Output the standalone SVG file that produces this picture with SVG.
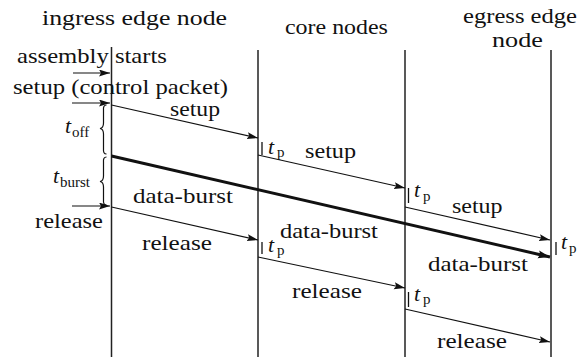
<svg xmlns="http://www.w3.org/2000/svg" width="586" height="359" viewBox="0 0 586 359">
<style>
text{font-family:"Liberation Serif","Times New Roman",serif;font-size:22px;fill:#111}
.it{font-style:italic}
.sub{font-size:15px}
.life{stroke:#222;stroke-width:1.5;fill:none}
.msg{stroke:#111;stroke-width:1.2;fill:none;marker-end:url(#ah)}
.thick{stroke:#111;stroke-width:3;fill:none;marker-end:url(#ahb)}
.bar{stroke:#111;stroke-width:1.3}
.brace{stroke:#111;stroke-width:1.2;fill:none}
</style>
<defs>
<marker id="ah" markerUnits="userSpaceOnUse" markerWidth="12" markerHeight="8" refX="11" refY="3.5" orient="auto">
<path d="M0,0 L11,3.5 L0,7 L2,3.5 z" fill="#111"/>
</marker>
<marker id="ahb" markerUnits="userSpaceOnUse" markerWidth="14" markerHeight="10" refX="12" refY="4" orient="auto">
<path d="M0,0 L12,4 L0,8 L2,4 z" fill="#111"/>
</marker>
</defs>
<rect width="586" height="359" fill="#fff"/>
<g id="ingress">
<text transform="translate(42 25) scale(1.174 1)">ingress edge node</text>
<line class="life" x1="111.5" y1="47" x2="111.5" y2="357"/>
</g>
<g id="core1">
<text transform="translate(285 34) scale(1.088 1)">core nodes</text>
<line class="life" x1="258" y1="50" x2="258" y2="357"/>
</g>
<g id="core2">
<line class="life" x1="405" y1="50" x2="405" y2="357"/>
</g>
<g id="egress">
<text transform="translate(463 23) scale(1.118 1)">egress edge</text>
<text transform="translate(492 47) scale(1.19 1)">node</text>
<line class="life" x1="551" y1="50" x2="551" y2="357"/>
</g>

<g id="connectors">
<line class="msg" x1="73" y1="73" x2="110" y2="73"/>
<line class="msg" x1="72" y1="103" x2="110" y2="103"/>
<line class="msg" x1="72" y1="206" x2="110" y2="206"/>
<line class="msg" x1="111.5" y1="105" x2="258" y2="138"/>
<line class="msg" x1="258" y1="155" x2="405" y2="188"/>
<line class="msg" x1="405" y1="207" x2="550" y2="240"/>
<line class="thick" x1="111.5" y1="156" x2="550" y2="257"/>
<line class="msg" x1="111.5" y1="207" x2="258" y2="240"/>
<line class="msg" x1="258" y1="257" x2="405" y2="288"/>
<line class="msg" x1="405" y1="309" x2="550" y2="342"/>
</g>

<g id="braces">
<path class="brace" d="M106.5,105 Q103,105 103.5,110 L103.5,123 Q103.5,128 100,128.5 Q103.5,129 103.5,134 L103.5,149 Q103,154 106.5,154"/>
<path class="brace" d="M106.5,157 Q103,157 103.5,162 L103.5,176 Q103.5,181 100,181.5 Q103.5,182 103.5,187 L103.5,200 Q103,205 106.5,205"/>
</g>

<g id="labels">
<text transform="translate(17 63) scale(1.121 1)">assembly starts</text>
<text transform="translate(13 94) scale(1.121 1)">setup (control packet)</text>
<text transform="translate(170 116) scale(1.077 1)">setup</text>
<text transform="translate(305 158) scale(1.1 1)">setup</text>
<text transform="translate(452 213) scale(1.09 1)">setup</text>
<text transform="translate(133 203) scale(1.136 1)">data-burst</text>
<text transform="translate(280 238) scale(1.114 1)">data-burst</text>
<text transform="translate(428 271) scale(1.136 1)">data-burst</text>
<text transform="translate(35 228) scale(1.113 1)">release</text>
<text transform="translate(142 250) scale(1.146 1)">release</text>
<text transform="translate(292 298) scale(1.146 1)">release</text>
<text transform="translate(437 348) scale(1.146 1)">release</text>

<text x="65" y="133" class="it">t</text><text x="72" y="137" class="sub">off</text>
<text x="53" y="183" class="it">t</text><text x="60" y="187" class="sub">burst</text>
</g>

<g id="tp-labels">
<line class="bar" x1="262" y1="142" x2="262" y2="155"/>
<text x="268" y="154" class="it">t</text><text x="277" y="157" class="sub">p</text>
<line class="bar" x1="262" y1="242" x2="262" y2="254"/>
<text x="268" y="252" class="it">t</text><text x="277" y="255" class="sub">p</text>
<line class="bar" x1="408.5" y1="188" x2="408.5" y2="203"/>
<text x="414" y="197" class="it">t</text><text x="423" y="201" class="sub">p</text>
<line class="bar" x1="408.5" y1="292" x2="408.5" y2="307"/>
<text x="414" y="301" class="it">t</text><text x="423" y="304" class="sub">p</text>
<line class="bar" x1="556" y1="242" x2="556" y2="255"/>
<text x="561" y="249" class="it">t</text><text x="569" y="253" class="sub">p</text>
</g>
</svg>
